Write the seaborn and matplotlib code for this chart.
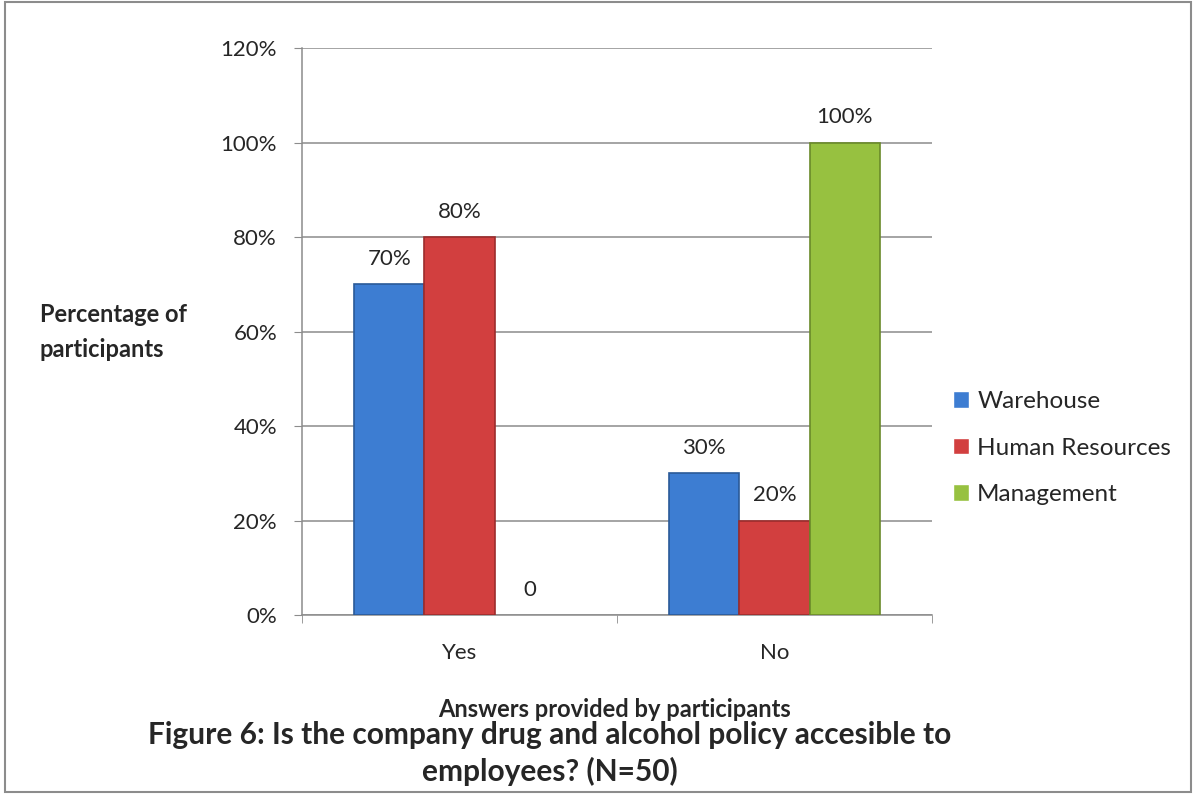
import pandas as pd
import seaborn as sns
import matplotlib.pyplot as plt
import matplotlib.ticker as ticker
from matplotlib.patches import Rectangle

# data
answers = ["Yes", "No"]
departments = ["Warehouse", "Human Resources", "Management"]
warehouse = [0.70, 0.30]
human_resources = [0.80, 0.20]
management = [0.0, 1.00]
bar_labels = [["70%", "30%"], ["80%", "20%"], ["0", "100%"]]

colors = ["#3D7DD2", "#D23F3F", "#97C140"]
edges = ["#2A5A98", "#9C2C2C", "#6A8A2A"]


def main():
    rows = []
    for dept, vals in zip(departments, [warehouse, human_resources, management]):
        for ans, v in zip(answers, vals):
            rows.append({"answer": ans, "dept": dept, "value": v})
    df = pd.DataFrame(rows)

    sns.set_style("white")
    plt.rcParams["font.family"] = ["Lato", "DejaVu Sans"]

    fig = plt.figure(figsize=(11.98, 7.94), dpi=100)
    ax = fig.add_axes([0.2521, 0.2254, 0.5259, 0.7141])

    sns.barplot(data=df, x="answer", y="value", hue="dept", order=answers,
                hue_order=departments, palette=colors, width=0.67,
                saturation=1, ax=ax, zorder=3)

    # bar edges and labels, container per department
    for i, cont in enumerate(ax.containers):
        for j, bar in enumerate(cont):
            h = bar.get_height()
            bar.set_edgecolor(edges[i])
            bar.set_linewidth(1.2 if h > 0 else 0)
            ax.annotate(bar_labels[i][j], (bar.get_x() + bar.get_width() / 2, h),
                        xytext=(0, 11), textcoords="offset points",
                        ha="center", va="bottom", fontsize=16)

    ax.set_ylim(0, 1.2)
    ax.set_xlim(-0.5, 1.5)
    ax.yaxis.set_major_locator(ticker.MultipleLocator(0.2))
    ax.yaxis.set_major_formatter(ticker.FuncFormatter(lambda v, p: f"{v * 100:.0f}%"))
    ax.grid(axis="y", color="#8c8c8c", linewidth=1.1, zorder=0)
    ax.set_axisbelow(True)

    for s in ["top", "right"]:
        ax.spines[s].set_visible(False)
    for s in ["left", "bottom"]:
        ax.spines[s].set_color("#8c8c8c")
        ax.spines[s].set_linewidth(1.1)

    ax.tick_params(axis="y", which="major", length=6, color="#8c8c8c",
                   labelsize=16, pad=12, left=True)
    ax.tick_params(axis="x", which="major", length=0, labelsize=16, pad=20)
    ax.xaxis.set_minor_locator(ticker.FixedLocator([-0.5, 0.5, 1.5]))
    ax.tick_params(axis="x", which="minor", length=6, color="#8c8c8c", bottom=True)

    ax.set_xlabel("")
    ax.set_ylabel("")

    fig.text(0.033, 0.582, "Percentage of\nparticipants", fontsize=17,
             fontweight="bold", ha="left", va="center", linespacing=1.65)
    fig.text(0.513, 0.106, "Answers provided by participants", fontsize=17,
             fontweight="bold", ha="center", va="center")
    fig.text(0.459, 0.051,
             "Figure 6: Is the company drug and alcohol policy accesible to\nemployees? (N=50)",
             fontsize=21.5, fontweight="bold", ha="center", va="center", linespacing=1.3)

    ax.legend(loc="upper left", bbox_to_anchor=(1.033, 0.395), frameon=False,
              fontsize=17.5, handlelength=0.65, handleheight=0.65,
              handletextpad=0.35, labelspacing=1.05, borderaxespad=0, borderpad=0)

    fig.patches.append(Rectangle((0.004, 0.003), 0.99, 0.994, transform=fig.transFigure,
                                 fill=False, edgecolor="#8c8c8c", linewidth=1.5))

    fig.savefig("out.png", dpi=100)


if __name__ == '__main__':
    main()
